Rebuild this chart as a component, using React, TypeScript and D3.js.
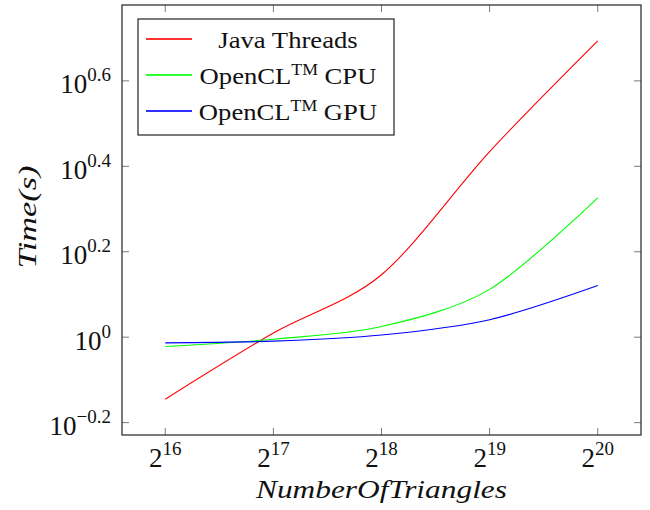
import React from "react";
import * as d3 from "d3";

const triangles = [65536, 131072, 262144, 524288, 1048576];
const javaThreads = [0.716, 1.023, 1.4, 2.72, 4.94];
const openclCpu = [0.951, 0.989, 1.059, 1.294, 2.12];
const openclGpu = [0.97, 0.979, 1.012, 1.099, 1.321];
const xTickExponents = [16, 17, 18, 19, 20];
const yTickExponents = [-0.2, 0, 0.2, 0.4, 0.6];
const seriesNames = ["Java Threads", "OpenCL CPU", "OpenCL GPU"];
const seriesColors = ["#ff0000", "#00ff00", "#0000ff"];

const W = 650;
const H = 510;
const left = 122;
const right = 641;
const top = 5;
const bottom = 435;
const FONT = "Liberation Serif, Times New Roman, serif";

export default function App() {
  const series = [javaThreads, openclCpu, openclGpu];

  const lx = triangles.map((v) => Math.log2(v));
  const lx0 = d3.min(lx)!;
  const lx1 = d3.max(lx)!;
  const px = (lx1 - lx0) * 0.1;
  const x = d3
    .scaleLog()
    .base(2)
    .domain([2 ** (lx0 - px), 2 ** (lx1 + px)])
    .range([left, right]);

  const all = series.flat().map((v) => Math.log10(v));
  const ly0 = d3.min(all)!;
  const ly1 = d3.max(all)!;
  const py = (ly1 - ly0) * 0.1;
  const y = d3
    .scaleLog()
    .domain([10 ** (ly0 - py), 10 ** (ly1 + py)])
    .range([bottom, top]);

  const line = d3
    .line<number>()
    .x((_, i) => x(triangles[i]))
    .y((d) => y(d))
    .curve(d3.curveCardinal.tension(0.1));

  const tickLen = 7;
  const fmt = (e: number) => (e < 0 ? "\u2212" + Math.abs(e) : String(e));

  return (
    <svg
      width={W}
      height={H}
      style={{ position: "absolute", left: 0, top: 0, background: "#fff", fontFamily: FONT }}
    >
      <rect x={0} y={0} width={W} height={H} fill="#fff" />
      {/* ticks */}
      {xTickExponents.map((e) => {
        const xx = x(2 ** e);
        return (
          <g key={"xt" + e} stroke="#7a7a7a" strokeWidth={1}>
            <line x1={xx} x2={xx} y1={bottom} y2={bottom - tickLen} />
            <line x1={xx} x2={xx} y1={top} y2={top + tickLen} />
          </g>
        );
      })}
      {yTickExponents.map((e) => {
        const yy = y(10 ** e);
        return (
          <g key={"yt" + e} stroke="#7a7a7a" strokeWidth={1}>
            <line x1={left} x2={left + tickLen} y1={yy} y2={yy} />
            <line x1={right} x2={right - tickLen} y1={yy} y2={yy} />
          </g>
        );
      })}
      {/* lines */}
      {series.map((s, i) => (
        <path
          key={"s" + i}
          d={line(s) || ""}
          fill="none"
          style={{ stroke: seriesColors[i], strokeWidth: 1.1 }}
        />
      ))}
      {/* frame */}
      <rect
        x={left}
        y={top}
        width={right - left}
        height={bottom - top}
        fill="none"
        stroke="#222"
        strokeWidth={1.2}
      />
      {/* x tick labels */}
      {xTickExponents.map((e) => (
        <text
          key={"xl" + e}
          x={x(2 ** e)}
          y={467}
          fontSize={27}
          textAnchor="middle"
          fill="#111"
        >
          2
          <tspan fontSize={19} dy={-12}>
            {e}
          </tspan>
        </text>
      ))}
      {/* y tick labels */}
      {yTickExponents.map((e) => (
        <text
          key={"yl" + e}
          x={111}
          y={y(10 ** e) + 12.5}
          fontSize={27}
          textAnchor="end"
          fill="#111"
        >
          10
          <tspan fontSize={19} dy={-12}>
            {fmt(e)}
          </tspan>
        </text>
      ))}
      {/* axis titles */}
      <text
        x={(left + right) / 2}
        y={498}
        fontSize={25}
        fontStyle="italic"
        textAnchor="middle"
        textLength={251}
        lengthAdjust="spacingAndGlyphs"
        fill="#111"
      >
        NumberOfTriangles
      </text>
      <text
        transform={`translate(36,${(top + bottom) / 2 - 3}) rotate(-90)`}
        fontSize={25}
        fontStyle="italic"
        textAnchor="middle"
        textLength={103}
        lengthAdjust="spacingAndGlyphs"
        fill="#111"
      >
        Time(s)
      </text>
      {/* legend */}
      <rect x={138} y={19} width={256} height={116} fill="#fff" stroke="#222" strokeWidth={1.2} />
      {seriesNames.map((name, i) => {
        const cy = 39 + i * 36;
        const parts = name.split(" ");
        return (
          <g key={"lg" + i}>
            <rect x={146} y={cy - 0.8} width={46} height={1.6} fill={seriesColors[i]} />
            <g transform={`translate(288,${cy + 9}) scale(1.11,1)`}>
              {i === 0 ? (
                <text x={0} y={0} fontSize={24} textAnchor="middle" fill="#111">
                  {name}
                </text>
              ) : (
                <text x={0} y={0} fontSize={24} textAnchor="middle" fill="#111">
                  {parts[0]}
                  <tspan fontSize={16} dy={-9}>
                    TM
                  </tspan>
                  <tspan dy={9}>{" " + parts[1]}</tspan>
                </text>
              )}
            </g>
          </g>
        );
      })}
    </svg>
  );
}
